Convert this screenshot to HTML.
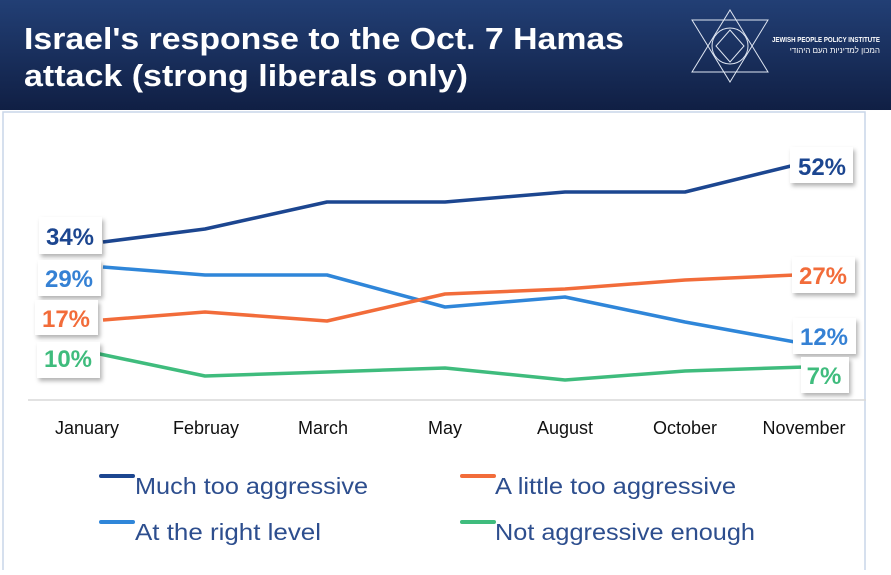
<!DOCTYPE html>
<html><head><meta charset="utf-8"><style>
body{margin:0;width:891px;height:570px;overflow:hidden;background:#fff;font-family:"Liberation Sans",sans-serif}
</style></head><body>
<svg width="891" height="570" viewBox="0 0 891 570" xmlns="http://www.w3.org/2000/svg">
<defs>
<linearGradient id="hg" x1="0" y1="0" x2="0" y2="1"><stop offset="0" stop-color="#223f75"/><stop offset="1" stop-color="#101f44"/></linearGradient>
<filter id="sh" x="-20%" y="-20%" width="150%" height="150%"><feDropShadow dx="2" dy="3" stdDeviation="2" flood-color="#000" flood-opacity="0.3"/></filter>
</defs>
<rect x="0" y="0" width="891" height="110" fill="url(#hg)"/>
<rect x="3" y="112" width="862" height="460" fill="#fff" stroke="#c9d6e8" stroke-width="1.5"/>
<text x="24" y="49" fill="#fff" font-size="31" font-weight="bold" textLength="600" lengthAdjust="spacingAndGlyphs">Israel's response to the Oct. 7 Hamas</text>
<text x="24" y="86" fill="#fff" font-size="31" font-weight="bold" textLength="444" lengthAdjust="spacingAndGlyphs">attack (strong liberals only)</text>
<g stroke="#dfe6f2" stroke-width="1" fill="none">
<polygon points="730,10 768,72 692,72"/><polygon points="730,82 768,20 692,20"/>
<circle cx="730" cy="46" r="18"/><polygon points="730,30 744,46 730,62 716,46"/>
</g>
<text x="772" y="42" fill="#fff" font-size="7" font-weight="bold" textLength="108" lengthAdjust="spacingAndGlyphs">JEWISH PEOPLE POLICY INSTITUTE</text>
<text x="880" y="53" fill="#fff" font-size="8" text-anchor="end" font-family="'Liberation Sans','DejaVu Sans',sans-serif">המכון למדיניות העם היהודי</text>
<line x1="28" y1="400" x2="866" y2="400" stroke="#d9d9d9" stroke-width="1.5"/>
<g fill="none" stroke-width="3.5" stroke-linejoin="round">
<polyline stroke="#1c4690" points="103,242 205,229 327,202 445,202 565,192 685,192 795,165"/>
<polyline stroke="#2f86d9" points="103,267 205,275 327,275 445,307 565,297 685,322 795,342"/>
<polyline stroke="#f26c3a" points="103,320 205,312 327,321 445,294 565,289 685,280 795,275"/>
<polyline stroke="#3fbc7d" points="95,353 205,376 327,372 445,368 565,380 685,371 805,367"/>
</g>
<g filter="url(#sh)" fill="#fff">
<rect x="39" y="217" width="63" height="37"/><rect x="38" y="260" width="63" height="36"/>
<rect x="35" y="300" width="63" height="35"/><rect x="37" y="342" width="63" height="36"/>
<rect x="790" y="147" width="63" height="36"/><rect x="792" y="257" width="63" height="36"/>
<rect x="793" y="318" width="63" height="36"/><rect x="801" y="357" width="48" height="36"/>
</g>
<g font-size="24" font-weight="bold" text-anchor="middle">
<text x="70" y="245" fill="#1c4690">34%</text>
<text x="69" y="287" fill="#3581d4">29%</text>
<text x="66" y="327" fill="#f26c3a">17%</text>
<text x="68" y="367" fill="#3fbc7d">10%</text>
<text x="822" y="175" fill="#1c4690">52%</text>
<text x="823" y="284" fill="#f26c3a">27%</text>
<text x="824" y="345" fill="#3581d4">12%</text>
<text x="824" y="384" fill="#3fbc7d">7%</text>
</g>
<g font-size="18" fill="#111" text-anchor="middle">
<text x="87" y="434">January</text><text x="206" y="434">Februay</text><text x="323" y="434">March</text>
<text x="445" y="434">May</text><text x="565" y="434">August</text><text x="685" y="434">October</text><text x="804" y="434">November</text>
</g>
<g stroke-width="4" stroke-linecap="round">
<line x1="101" y1="476" x2="133" y2="476" stroke="#1c4690"/>
<line x1="462" y1="476" x2="494" y2="476" stroke="#f26c3a"/>
<line x1="101" y1="522" x2="133" y2="522" stroke="#2f86d9"/>
<line x1="462" y1="522" x2="494" y2="522" stroke="#3fbc7d"/>
</g>
<g font-size="23" fill="#2d4e8e" lengthAdjust="spacingAndGlyphs">
<text x="135" y="494" textLength="233" lengthAdjust="spacingAndGlyphs">Much too aggressive</text><text x="495" y="494" textLength="241" lengthAdjust="spacingAndGlyphs">A little too aggressive</text>
<text x="135" y="540" textLength="186" lengthAdjust="spacingAndGlyphs">At the right level</text><text x="495" y="540" textLength="260" lengthAdjust="spacingAndGlyphs">Not aggressive enough</text>
</g>
</svg>
</body></html>
